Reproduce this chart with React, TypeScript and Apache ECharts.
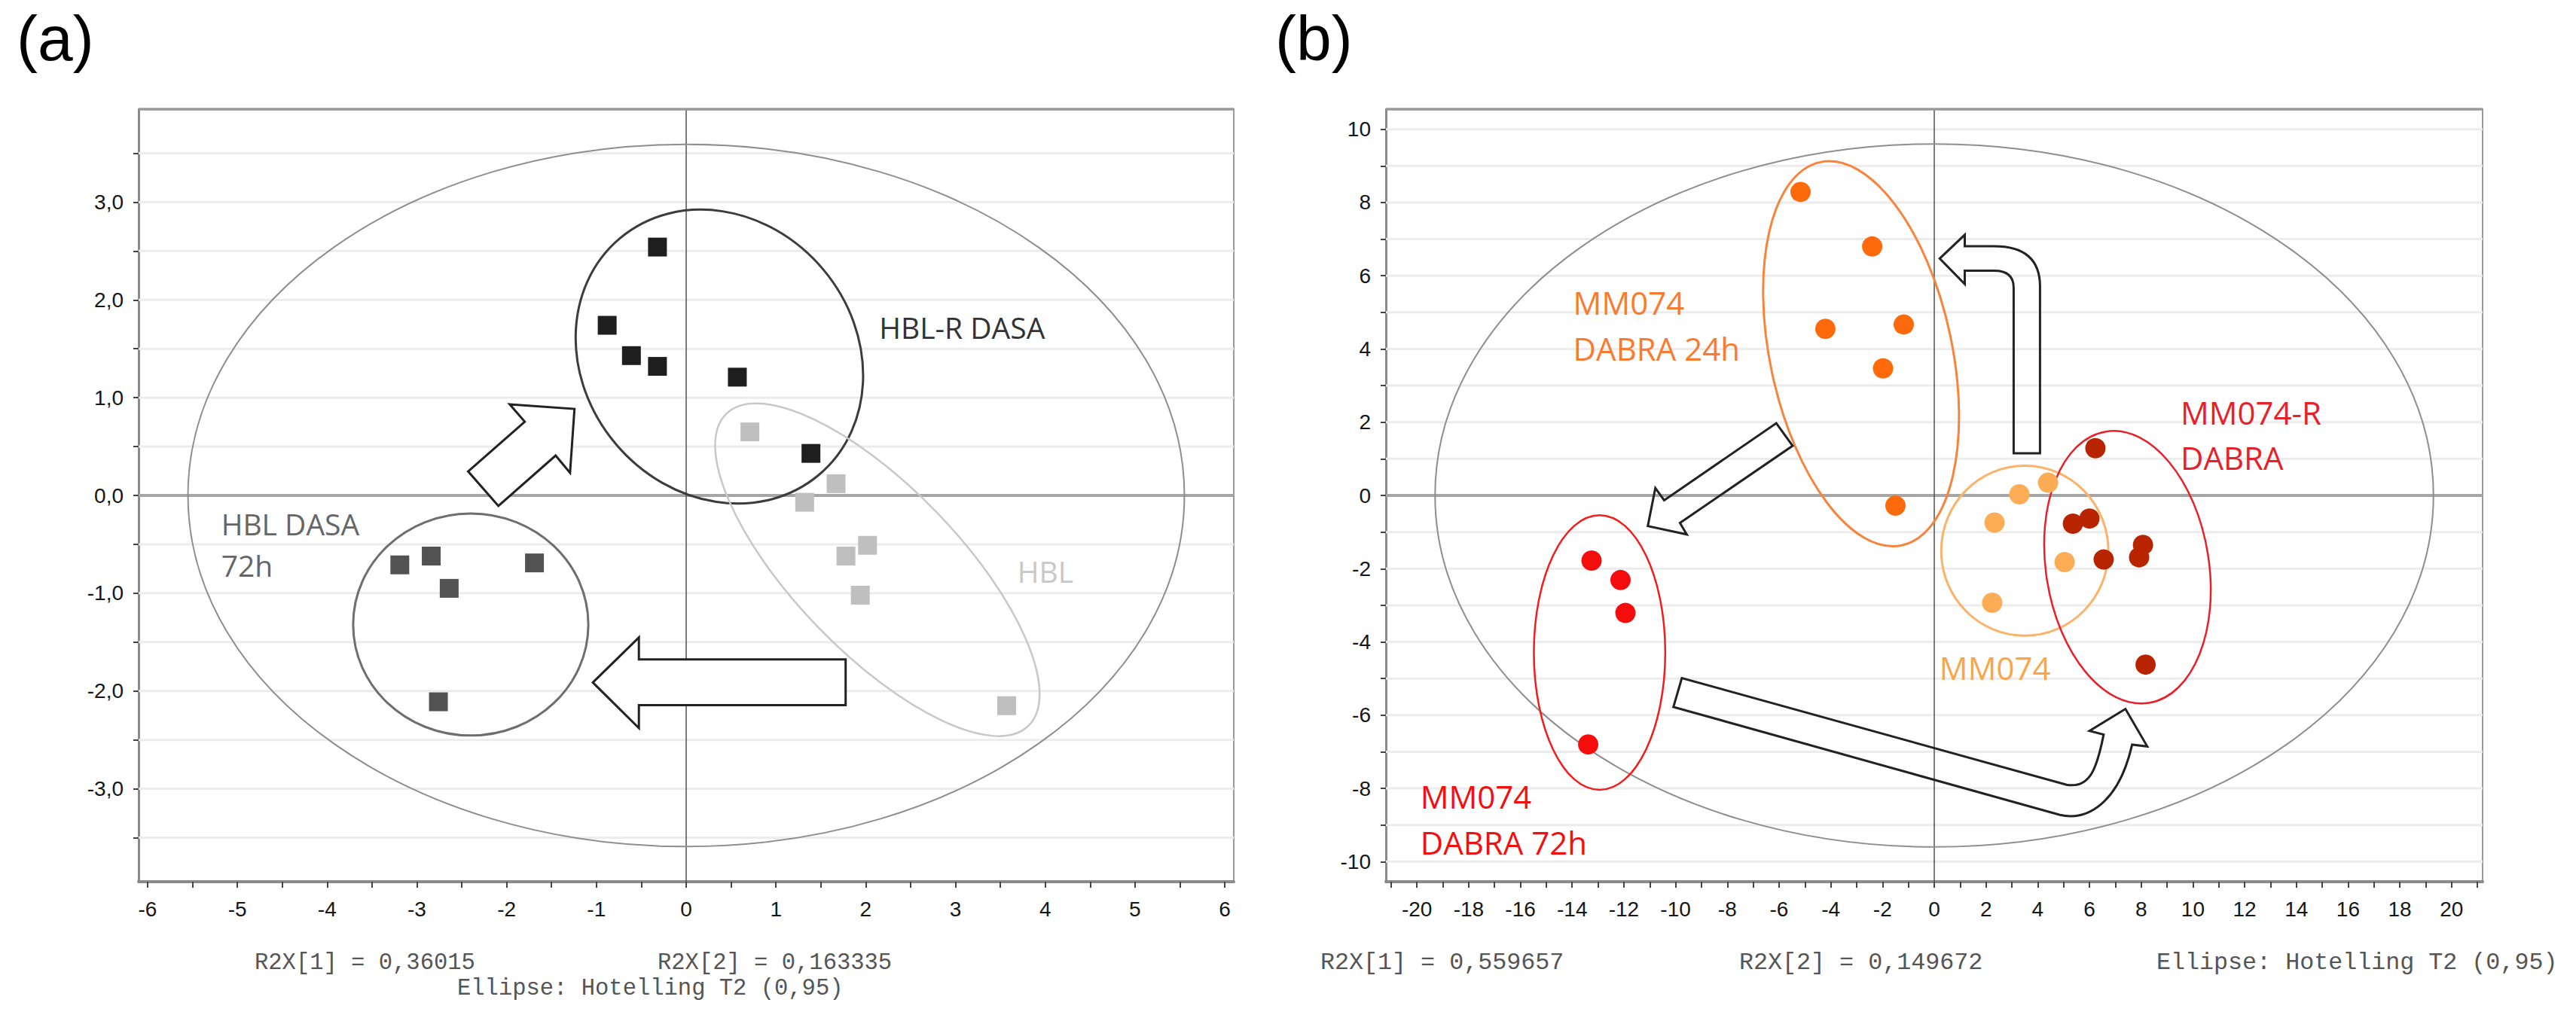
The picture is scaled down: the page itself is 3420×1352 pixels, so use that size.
import React, { useEffect, useRef } from "react";
import * as echarts from "echarts";

// ---------- Panel (a) data: PCA scores ----------
const HBLR_DASA = [[-0.32, 2.54], [-0.88, 1.74], [-0.61, 1.43], [-0.32, 1.32], [0.57, 1.21], [1.39, 0.43]];
const HBL = [[0.71, 0.65], [1.67, 0.12], [1.32, -0.07], [2.02, -0.51], [1.78, -0.62], [1.94, -1.02], [3.57, -2.15]];
const HBL_DASA_72H = [[-3.19, -0.71], [-2.84, -0.62], [-2.64, -0.95], [-1.69, -0.69], [-2.76, -2.11]];

// ---------- Panel (b) data ----------
const MM074_DABRA_24H = [[-5.17, 8.29], [-2.4, 6.8], [-4.21, 4.55], [-1.18, 4.67], [-1.98, 3.47], [-1.5, -0.28]];
const MM074 = [[3.29, 0.03], [4.4, 0.35], [2.33, -0.74], [5.04, -1.82], [2.24, -2.93]];
const MM074R_DABRA = [[6.23, 1.29], [5.36, -0.77], [6.0, -0.63], [6.55, -1.75], [8.07, -1.35], [7.92, -1.69], [8.17, -4.62]];
const MM074_DABRA_72H = [[-13.25, -1.78], [-12.13, -2.31], [-11.94, -3.21], [-13.38, -6.8]];

// ---------- Axes ----------
const A_X_RANGE = [-6.1, 6.1];
const A_Y_RANGE = [-3.95, 3.95];
const A_X_TICKS = [-6, -5.5, -5, -4.5, -4, -3.5, -3, -2.5, -2, -1.5, -1, -0.5, 0, 0.5, 1, 1.5, 2, 2.5, 3, 3.5, 4, 4.5, 5, 5.5, 6];
const A_X_LABELS = [-6, -5, -4, -3, -2, -1, 0, 1, 2, 3, 4, 5, 6];
const A_Y_TICKS = [-3.5, -3, -2.5, -2, -1.5, -1, -0.5, 0, 0.5, 1, 1.5, 2, 2.5, 3, 3.5];
const A_Y_LABELS = [-3, -2, -1, 0, 1, 2, 3];

const B_X_RANGE = [-21.2, 21.2];
const B_Y_RANGE = [-10.55, 10.55];
const B_X_TICKS = [-21, -20, -19, -18, -17, -16, -15, -14, -13, -12, -11, -10, -9, -8, -7, -6, -5, -4, -3, -2, -1, 0, 1, 2, 3, 4, 5, 6, 7, 8, 9, 10, 11, 12, 13, 14, 15, 16, 17, 18, 19, 20, 21];
const B_X_LABELS = [-20, -18, -16, -14, -12, -10, -8, -6, -4, -2, 0, 2, 4, 6, 8, 10, 12, 14, 16, 18, 20];
const B_Y_TICKS = [-10, -9, -8, -7, -6, -5, -4, -3, -2, -1, 0, 1, 2, 3, 4, 5, 6, 7, 8, 9, 10];
const B_Y_LABELS = [-10, -8, -6, -4, -2, 0, 2, 4, 6, 8, 10];

// ---------- Ellipses: [cx, cy, rx (x units), ry (y units), rotation deg] ----------
const A_ELLIPSES = [
  [0, 0, 5.55, 3.59, 0],
  [0.37, 1.42, 1.51, 1.58, 40],
  [2.13, -0.76, 0.92, 2.22, 44],
  [-2.4, -1.32, 1.31, 1.135, 0],
];
const A_ELLIPSE_COLORS = ["#8e8e8e", "#3c3c3c", "#c8c8c8", "#6e6e6e"];
const A_ELLIPSE_WIDTHS = [2, 3, 2.5, 3];

const B_ELLIPSES = [
  [0, 0, 19.3, 9.6, 0],
  [-2.83, 3.87, 3.52, 5.35, 12],
  [3.5, -1.51, 3.23, 2.32, 0],
  [7.47, -1.96, 3.15, 3.75, 9],
  [-12.94, -4.29, 2.54, 3.75, 0],
];
const B_ELLIPSE_COLORS = ["#8e8e8e", "#f8843c", "#fbb36a", "#e8202a", "#f21c1c"];
const B_ELLIPSE_WIDTHS = [2, 3, 3, 2.5, 2.5];

// ---------- Arrows (data coordinates) ----------
const A_ARROW_UP = [["M", -1.966, 0.931], ["L", -1.244, 0.885], ["L", -1.294, 0.231], ["L", -1.454, 0.408], ["L", -2.092, -0.108], ["L", -2.429, 0.246], ["L", -1.798, 0.754]];
const A_ARROW_LEFT = [["M", -1.04, -1.913], ["L", -0.527, -1.452], ["L", -0.527, -1.677], ["L", 1.776, -1.677], ["L", 1.776, -2.144], ["L", -0.527, -2.144], ["L", -0.527, -2.379]];
const B_ARROW_UP_LEFT = [["M", 0.21, 6.47], ["L", 1.18, 7.12], ["L", 1.18, 6.81], ["L", 2.31, 6.81], ["Q", 4.09, 6.81, 4.09, 5.71], ["L", 4.09, 1.15], ["L", 3.07, 1.15], ["L", 3.07, 5.68], ["Q", 3.07, 6.14, 2.31, 6.14], ["L", 1.18, 6.14], ["L", 1.18, 5.77]];
const B_ARROW_DOWN_LEFT = [["M", -6.106, 1.973], ["L", -5.474, 1.356], ["L", -9.831, -0.749], ["L", -9.569, -1.064], ["L", -11.074, -0.837], ["L", -10.783, 0.204], ["L", -10.443, -0.132]];
const B_ARROW_BENT = [["M", -9.758, -4.988], ["L", -10.084, -5.776], ["L", 4.857, -8.726], ["C", 5.896, -8.897, 7.13, -8.418, 7.651, -6.805], ["L", 8.236, -6.854], ["L", 7.392, -5.831], ["L", 6.001, -6.428], ["L", 6.548, -6.531], ["C", 6.286, -7.457, 6.027, -8.006, 5.116, -7.903]];

// ---------- Group labels ----------
const A_LABELS = [
  { text: "HBL-R DASA", x: 2.15, y: 1.72, color: "#333333" },
  { text: "HBL DASA", x: -5.18, y: -0.285, color: "#666666" },
  { text: "72h", x: -5.18, y: -0.715, color: "#666666" },
  { text: "HBL", x: 3.69, y: -0.777, color: "#c8c8c8" },
];
const B_LABELS = [
  { text: "MM074", x: -13.96, y: 5.28, color: "#f97b30" },
  { text: "DABRA 24h", x: -13.96, y: 4.02, color: "#f97b30" },
  { text: "MM074-R", x: 9.52, y: 2.28, color: "#e8202a" },
  { text: "DABRA", x: 9.52, y: 1.04, color: "#e8202a" },
  { text: "MM074", x: 0.2, y: -4.7, color: "#f9a64b" },
  { text: "MM074", x: -19.87, y: -8.22, color: "#f40f0f" },
  { text: "DABRA 72h", x: -19.87, y: -9.47, color: "#f40f0f" },
];

const commaFmt = (v: number) => v.toFixed(1).replace(".", ",");

function axisPair(idx: number, xr: number[], yr: number[], xt: number[], xl: number[], yt: number[], yl: number[], yFmt: (v: number) => string) {
  const labelStyle = { color: "#161616", fontFamily: "Liberation Sans", fontSize: 28 };
  const x = {
    type: "value", gridIndex: idx, min: xr[0], max: xr[1],
    axisLine: { onZero: false, lineStyle: { color: "#8a8a8a", width: 4 } },
    axisTick: { customValues: xt, length: 8, lineStyle: { color: "#444", width: 2 } },
    axisLabel: { customValues: xl, margin: 22, formatter: (v: number) => String(v), ...labelStyle },
    splitLine: { show: false },
  };
  const y = {
    type: "value", gridIndex: idx, min: yr[0], max: yr[1],
    axisLine: { onZero: false, lineStyle: { color: "#8a8a8a", width: 3 } },
    axisTick: { customValues: yt, length: 7, lineStyle: { color: "#444", width: 2 } },
    axisLabel: { customValues: yl, margin: 20, formatter: yFmt, ...labelStyle },
    splitLine: { show: false },
  };
  return { x, y };
}

function frameSeries(idx: number, xr: number[], yr: number[], gridVals: number[]) {
  return {
    type: "custom", xAxisIndex: idx, yAxisIndex: idx, data: [[0, 0]], z: 1, silent: true,
    renderItem: (_p: any, api: any) => {
      const children: any[] = [];
      const seg = (a: number[], b: number[], stroke: string, lw: number) => {
        const p1 = api.coord(a);
        const p2 = api.coord(b);
        children.push({ type: "line", shape: { x1: p1[0], y1: p1[1], x2: p2[0], y2: p2[1] }, style: { stroke, lineWidth: lw } });
      };
      for (const v of gridVals) if (v !== 0) seg([xr[0], v], [xr[1], v], "#ececec", 3);
      seg([xr[0], 0], [xr[1], 0], "#a6a6a6", 4);
      seg([0, yr[0]], [0, yr[1]], "#5a5a5a", 1.6);
      seg([xr[0], yr[1]], [xr[1], yr[1]], "#9a9a9a", 3.5);
      return { type: "group", children };
    },
  };
}

function ellipseSeries(idx: number, ells: number[][], colors: string[], widths: number[]) {
  return {
    type: "custom", xAxisIndex: idx, yAxisIndex: idx, data: ells, z: 3, silent: true,
    renderItem: (params: any, api: any) => {
      const c = api.coord([api.value(0), api.value(1)]);
      const rx = api.size([api.value(2), 0])[0];
      const ry = api.size([0, api.value(3)])[1];
      return {
        type: "ellipse", x: c[0], y: c[1], rotation: (api.value(4) * Math.PI) / 180,
        shape: { cx: 0, cy: 0, rx, ry },
        style: { fill: "none", stroke: colors[params.dataIndex], lineWidth: widths[params.dataIndex] },
      };
    },
  };
}

function arrowSeries(idx: number, arrows: any[][], fill: string) {
  return {
    type: "custom", xAxisIndex: idx, yAxisIndex: idx, z: 6, silent: true,
    data: arrows.map((a) => [a[0][1], a[0][2]]),
    renderItem: (params: any, api: any) => {
      const cmds = arrows[params.dataIndex];
      let d = "";
      for (const cmd of cmds) {
        d += cmd[0];
        for (let i = 1; i < cmd.length; i += 2) {
          const p = api.coord([cmd[i], cmd[i + 1]]);
          d += " " + p[0].toFixed(1) + " " + p[1].toFixed(1);
        }
        d += " ";
      }
      d += "Z";
      return { type: "path", shape: { pathData: d }, style: { fill, stroke: "#222", lineWidth: 3, lineJoin: "miter" } };
    },
  };
}

function labelSeries(idx: number, labels: any[], fontSize: number) {
  return {
    type: "custom", xAxisIndex: idx, yAxisIndex: idx, z: 7, silent: true,
    data: labels.map((l) => [l.x, l.y]),
    renderItem: (params: any, api: any) => {
      const L = labels[params.dataIndex];
      const p = api.coord([L.x, L.y]);
      return {
        type: "text", x: p[0], y: p[1],
        style: { text: L.text, fill: L.color, fontSize, fontFamily: "Open Sans", align: "left", verticalAlign: "middle" },
      };
    },
  };
}

function scatter(idx: number, data: number[][], symbol: string, size: number, color: string) {
  return { type: "scatter", xAxisIndex: idx, yAxisIndex: idx, data, symbol, symbolSize: size, itemStyle: { color, opacity: 1 }, z: 5, silent: true };
}

export default function App() {
  const ref = useRef<HTMLDivElement>(null);
  useEffect(() => {
    if (!ref.current) return;
    const chart = echarts.init(ref.current, null, { renderer: "svg" });
    const a = axisPair(0, A_X_RANGE, A_Y_RANGE, A_X_TICKS, A_X_LABELS, A_Y_TICKS, A_Y_LABELS, commaFmt);
    const b = axisPair(1, B_X_RANGE, B_Y_RANGE, B_X_TICKS, B_X_LABELS, B_Y_TICKS, B_Y_LABELS, (v: number) => String(v));
    const mono = (text: string, x: number, y: number, size: number) => ({
      type: "text", left: x, top: y - size / 2,
      style: { text, fill: "#555", fontFamily: "Liberation Mono", fontSize: size },
    });
    const panelTitle = (text: string, x: number) => ({
      type: "text", x, y: 51,
      style: { text, fill: "#000", fontFamily: "Liberation Sans", fontSize: 84, align: "left", verticalAlign: "middle" },
    });
    chart.setOption({
      animation: false,
      backgroundColor: "#ffffff",
      grid: [
        { left: 184, top: 145, width: 1454, height: 1026, show: true, borderColor: "#9a9a9a", borderWidth: 2 },
        { left: 1840, top: 145, width: 1456, height: 1026, show: true, borderColor: "#9a9a9a", borderWidth: 2 },
      ],
      xAxis: [a.x, b.x],
      yAxis: [a.y, b.y],
      series: [
        frameSeries(0, A_X_RANGE, A_Y_RANGE, A_Y_TICKS),
        frameSeries(1, B_X_RANGE, B_Y_RANGE, B_Y_TICKS),
        ellipseSeries(0, A_ELLIPSES, A_ELLIPSE_COLORS, A_ELLIPSE_WIDTHS),
        ellipseSeries(1, B_ELLIPSES, B_ELLIPSE_COLORS, B_ELLIPSE_WIDTHS),
        scatter(0, HBLR_DASA, "rect", 25, "#1e1e1e"),
        scatter(0, HBL, "rect", 25, "#bfbfbf"),
        scatter(0, HBL_DASA_72H, "rect", 25, "#525252"),
        scatter(1, MM074_DABRA_24H, "circle", 27, "#fd6a0c"),
        scatter(1, MM074, "circle", 27, "#fbac55"),
        scatter(1, MM074R_DABRA, "circle", 27, "#b82300"),
        scatter(1, MM074_DABRA_72H, "circle", 27, "#f50d0d"),
        arrowSeries(0, [A_ARROW_UP, A_ARROW_LEFT], "#ffffff"),
        arrowSeries(1, [B_ARROW_UP_LEFT, B_ARROW_DOWN_LEFT, B_ARROW_BENT], "none"),
        labelSeries(0, A_LABELS, 39),
        labelSeries(1, B_LABELS, 42),
      ],
      graphic: [
        panelTitle("(a)", 22),
        panelTitle("(b)", 1693),
        mono("R2X[1] = 0,36015", 338, 1279, 30.5),
        mono("R2X[2] = 0,163335", 873, 1279, 30.5),
        mono("Ellipse: Hotelling T2 (0,95)", 607, 1313, 30.5),
        mono("R2X[1] = 0,559657", 1753, 1279, 31.7),
        mono("R2X[2] = 0,149672", 2309, 1279, 31.7),
        mono("Ellipse: Hotelling T2 (0,95)", 2863, 1279, 31.7),
      ],
    });
    return () => chart.dispose();
  }, []);
  return <div ref={ref} style={{ position: "absolute", left: 0, top: 0, width: 3420, height: 1352 }} />;
}
